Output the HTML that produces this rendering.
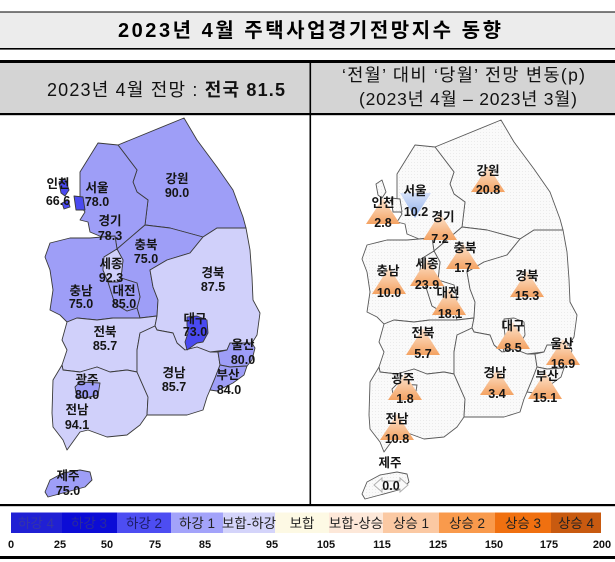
<!DOCTYPE html>
<html>
<head>
<meta charset="utf-8">
<style>
html,body{margin:0;padding:0;background:#fff;}
svg{display:block;}
text{font-family:"Liberation Sans","Noto Sans CJK KR",sans-serif;}
.L polygon{stroke:#3a3a3a;stroke-width:0.9;stroke-linejoin:round;}
.R polygon{stroke:#5a5a5a;stroke-width:0.9;stroke-linejoin:round;fill:url(#dots);}
.m{fill:#9e9ef7;}
.l{fill:#d0d0fa;}
.d{fill:#4a4af0;}
.lb{font-size:12.5px;font-weight:bold;fill:#151515;text-anchor:middle;}
.lg{font-size:13.5px;fill:#222;text-anchor:middle;}
.tk{font-size:11px;font-weight:bold;fill:#111;text-anchor:middle;}
</style>
</head>
<body>
<svg width="615" height="562" viewBox="0 0 615 562" xmlns="http://www.w3.org/2000/svg">
<defs>
<pattern id="dots" width="3" height="3" patternUnits="userSpaceOnUse">
<rect width="3" height="3" fill="#fafafa"/>
<rect x="1" y="1" width="1" height="1" fill="#ebebeb"/>
</pattern>
<linearGradient id="og" x1="0" y1="0" x2="0" y2="1">
<stop offset="0" stop-color="#fde6d2"/>
<stop offset="1" stop-color="#f4a262"/>
</linearGradient>
<linearGradient id="bg" x1="0" y1="0" x2="0" y2="1">
<stop offset="0" stop-color="#d6e2fa"/>
<stop offset="1" stop-color="#8eaee8"/>
</linearGradient>
</defs>

<!-- Title -->
<rect x="0" y="12" width="615" height="37" fill="#ececec"/>
<rect x="0" y="11.5" width="615" height="1" fill="#000"/>
<rect x="0" y="48" width="615" height="1.6" fill="#000"/>
<text x="118" y="37" font-size="20" font-weight="bold" fill="#000" textLength="383" lengthAdjust="spacing">2023년 4월 주택사업경기전망지수 동향</text>

<!-- Header row -->
<rect x="0" y="63" width="615" height="50" fill="#d4d4d4"/>
<rect x="0" y="60" width="615" height="3" fill="#000"/>
<rect x="0" y="113" width="615" height="2.2" fill="#000"/>
<text x="47" y="96" font-size="18" fill="#111" textLength="238" lengthAdjust="spacing">2023년 4월 전망 : <tspan font-weight="bold">전국 81.5</tspan></text>
<text x="342" y="81" font-size="17.5" fill="#111" textLength="243" lengthAdjust="spacing">‘전월’ 대비 ‘당월’ 전망 변동(p)</text>
<text x="359" y="105" font-size="17.5" fill="#111" textLength="218" lengthAdjust="spacing">(2023년 4월 – 2023년 3월)</text>

<!-- divider + bottom lines -->
<rect x="309.5" y="63" width="1.6" height="442" fill="#000"/>
<rect x="0" y="504" width="615" height="2.2" fill="#000"/>
<rect x="0" y="556" width="615" height="3" fill="#000"/>

<!-- LEFT MAP -->
<g class="L">
<polygon class="m" points="118,145 184,118 197,140 217,167 233,190 243,217 246,228 217,228 203,237 170,228 145,225 148,200 137,192 133,182 137,170"/>
<polygon class="m" points="80,172 98,143 118,145 137,170 133,182 137,192 148,200 145,225 117,249 115,236 102,237 90,232 88,222 80,220 85,212 80,205 80,190"/>
<polygon class="d" points="74,196 83,197 85,210 76,210"/>
<polygon class="d" points="59,182 65,178 69,190 65,196 61,193"/>
<polygon class="d" points="62,203 68,200 70,207 64,209"/>
<polygon class="m" points="145,225 170,228 203,237 190,253 167,260 150,270 153,287 158,300 157,316 140,318 137,308 140,297 137,283 121,278 123,260 117,249"/>
<polygon class="m" points="50,243 70,238 90,238 102,237 115,236 117,249 104,257 103,270 108,282 115,304 127,311 137,308 140,318 113,318 97,320 77,318 67,322 60,315 50,310 53,290 50,270 45,257"/>
<polygon class="l" points="104,257 117,249 123,260 121,278 118,282 108,282 103,270"/>
<polygon class="m" points="108,282 118,282 121,278 137,283 140,297 137,308 127,311 115,304"/>
<polygon class="l" points="67,322 77,318 97,320 113,318 140,318 157,316 155,326 140,333 137,350 137,372 127,370 110,372 97,367 80,372 63,370 62,365 67,350 62,340"/>
<polygon class="l" points="62,365 63,370 80,372 97,367 110,372 127,370 137,372 148,397 147,415 140,425 127,435 107,437 88,430 80,432 67,450 63,440 53,427 52,413 53,380"/>
<polygon class="m" points="75,387 80,382 100,383 98,395 85,398 77,397"/>
<polygon class="l" points="246,228 250,250 252,277 253,300 260,313 257,335 252,343 230,343 227,350 210,352 197,347 185,350 177,343 173,333 157,330 155,326 157,316 158,300 153,287 150,270 167,260 190,253 203,237 217,228"/>
<polygon class="l" points="155,326 157,330 173,333 177,343 185,350 197,347 210,352 218,352 220,365 215,378 210,390 207,397 203,410 187,415 167,415 147,415 148,397 137,372 137,350 140,333"/>
<polygon class="d" points="187,317 197,316 207,320 208,333 203,342 197,343 187,350 185,342 188,333 187,325"/>
<polygon class="m" points="218,352 227,350 230,343 252,343 255,348 252,360 247,366 230,367 220,365"/>
<polygon class="m" points="220,365 230,367 247,366 244,375 233,383 217,391 210,390 215,378"/>
<polygon class="m" points="45,492 50,480 63,473 80,470 90,472 92,480 85,487 63,493 48,497"/>
</g>
<g>
<text class="lb" x="58" y="188">인천</text><text class="lb" x="58" y="205">66.6</text>
<text class="lb" x="97" y="192">서울</text><text class="lb" x="97" y="206">78.0</text>
<text class="lb" x="110" y="225">경기</text><text class="lb" x="110" y="240">78.3</text>
<text class="lb" x="177" y="183">강원</text><text class="lb" x="177" y="197">90.0</text>
<text class="lb" x="146" y="249">충북</text><text class="lb" x="146" y="263">75.0</text>
<text class="lb" x="213" y="277">경북</text><text class="lb" x="213" y="291">87.5</text>
<text class="lb" x="111" y="268">세종</text><text class="lb" x="111" y="282">92.3</text>
<text class="lb" x="81" y="295">충남</text><text class="lb" x="81" y="308">75.0</text>
<text class="lb" x="124" y="295">대전</text><text class="lb" x="124" y="308">85.0</text>
<text class="lb" x="195" y="323">대구</text><text class="lb" x="195" y="336">73.0</text>
<text class="lb" x="105" y="336">전북</text><text class="lb" x="105" y="350">85.7</text>
<text class="lb" x="243" y="349">울산</text><text class="lb" x="243" y="364">80.0</text>
<text class="lb" x="87" y="384">광주</text><text class="lb" x="87" y="399">80.0</text>
<text class="lb" x="174" y="377">경남</text><text class="lb" x="174" y="391">85.7</text>
<text class="lb" x="228" y="379">부산</text><text class="lb" x="229" y="394">84.0</text>
<text class="lb" x="77" y="414">전남</text><text class="lb" x="77" y="429">94.1</text>
<text class="lb" x="68" y="480">제주</text><text class="lb" x="68" y="495">75.0</text>
</g>

<!-- RIGHT MAP -->
<g class="R" transform="translate(317,2)">
<polygon points="118,145 184,118 197,140 217,167 233,190 243,217 246,228 217,228 203,237 170,228 145,225 148,200 137,192 133,182 137,170"/>
<polygon points="80,172 98,143 118,145 137,170 133,182 137,192 148,200 145,225 117,249 115,236 102,237 90,232 88,222 80,220 85,212 80,205 80,190"/>
<polygon points="74,196 83,197 85,210 76,210"/>
<polygon points="59,182 65,178 69,190 65,196 61,193"/>
<polygon points="62,203 68,200 70,207 64,209"/>
<polygon points="145,225 170,228 203,237 190,253 167,260 150,270 153,287 158,300 157,316 140,318 137,308 140,297 137,283 121,278 123,260 117,249"/>
<polygon points="50,243 70,238 90,238 102,237 115,236 117,249 104,257 103,270 108,282 115,304 127,311 137,308 140,318 113,318 97,320 77,318 67,322 60,315 50,310 53,290 50,270 45,257"/>
<polygon points="104,257 117,249 123,260 121,278 118,282 108,282 103,270"/>
<polygon points="108,282 118,282 121,278 137,283 140,297 137,308 127,311 115,304"/>
<polygon points="67,322 77,318 97,320 113,318 140,318 157,316 155,326 140,333 137,350 137,372 127,370 110,372 97,367 80,372 63,370 62,365 67,350 62,340"/>
<polygon points="62,365 63,370 80,372 97,367 110,372 127,370 137,372 148,397 147,415 140,425 127,435 107,437 88,430 80,432 67,450 63,440 53,427 52,413 53,380"/>
<polygon points="75,387 80,382 100,383 98,395 85,398 77,397"/>
<polygon points="246,228 250,250 252,277 253,300 260,313 257,335 252,343 230,343 227,350 210,352 197,347 185,350 177,343 173,333 157,330 155,326 157,316 158,300 153,287 150,270 167,260 190,253 203,237 217,228"/>
<polygon points="155,326 157,330 173,333 177,343 185,350 197,347 210,352 218,352 220,365 215,378 210,390 207,397 203,410 187,415 167,415 147,415 148,397 137,372 137,350 140,333"/>
<polygon points="187,317 197,316 207,320 208,333 203,342 197,343 187,350 185,342 188,333 187,325"/>
<polygon points="218,352 227,350 230,343 252,343 255,348 252,360 247,366 230,367 220,365"/>
<polygon points="220,365 230,367 247,366 244,375 233,383 217,391 210,390 215,378"/>
<polygon points="45,492 50,480 63,473 80,470 90,472 92,480 85,487 63,493 48,497"/>
</g>

<!-- triangles -->
<g fill="url(#og)">
<polygon points="488,166 471,192 505,192"/>
<polygon points="383,198 366,224 400,224"/>
<polygon points="440,213 423,240 457,240"/>
<polygon points="463,243 446,269 480,269"/>
<polygon points="427,259 410,286 444,286"/>
<polygon points="389,267 372,294 406,294"/>
<polygon points="527,271 510,297 544,297"/>
<polygon points="449,288 432,315 466,315"/>
<polygon points="423,328 406,355 440,355"/>
<polygon points="513,322 496,349 530,349"/>
<polygon points="563,339 546,365 580,365"/>
<polygon points="497,369 480,395 514,395"/>
<polygon points="545,372 528,399 562,399"/>
<polygon points="405,374 388,400 422,400"/>
<polygon points="397,414 380,440 414,440"/>
</g>
<polygon points="400,193 431,193 415,218" fill="url(#bg)"/>
<polygon points="374,485 382,478 382,481 400,481 400,478 408,485 400,492 400,489 382,489 382,492" fill="#fafafa" stroke="#b0b0b0" stroke-width="1"/>

<g>
<text class="lb" x="488" y="175">강원</text><text class="lb" x="488" y="194">20.8</text>
<text class="lb" x="415" y="195">서울</text><text class="lb" x="416" y="216">10.2</text>
<text class="lb" x="383" y="207">인천</text><text class="lb" x="383" y="227">2.8</text>
<text class="lb" x="443" y="221">경기</text><text class="lb" x="440" y="243">7.2</text>
<text class="lb" x="465" y="252">충북</text><text class="lb" x="463" y="272">1.7</text>
<text class="lb" x="427" y="268">세종</text><text class="lb" x="427" y="289">23.9</text>
<text class="lb" x="388" y="275">충남</text><text class="lb" x="389" y="297">10.0</text>
<text class="lb" x="527" y="280">경북</text><text class="lb" x="527" y="300">15.3</text>
<text class="lb" x="448" y="297">대전</text><text class="lb" x="450" y="318">18.1</text>
<text class="lb" x="423" y="337">전북</text><text class="lb" x="423" y="358">5.7</text>
<text class="lb" x="513" y="330">대구</text><text class="lb" x="513" y="352">8.5</text>
<text class="lb" x="562" y="348">울산</text><text class="lb" x="563" y="368">16.9</text>
<text class="lb" x="495" y="377">경남</text><text class="lb" x="497" y="398">3.4</text>
<text class="lb" x="547" y="380">부산</text><text class="lb" x="545" y="402">15.1</text>
<text class="lb" x="403" y="383">광주</text><text class="lb" x="405" y="403">1.8</text>
<text class="lb" x="397" y="423">전남</text><text class="lb" x="397" y="443">10.8</text>
<text class="lb" x="390" y="467">제주</text><text class="lb" x="391" y="490">0.0</text>
</g>

<!-- LEGEND -->
<rect x="11" y="512.5" width="51" height="20.5" fill="#2020d4"/>
<rect x="62" y="512.5" width="55" height="20.5" fill="#0c0cd6"/>
<rect x="117" y="512.5" width="54" height="20.5" fill="#4d4df2"/>
<rect x="171" y="512.5" width="52" height="20.5" fill="#a3a3fa"/>
<rect x="223" y="512.5" width="52" height="20.5" fill="#d4d4fa"/>
<rect x="275" y="512.5" width="54" height="20.5" fill="#fdf9e4"/>
<rect x="329" y="512.5" width="54" height="20.5" fill="#fde8d9"/>
<rect x="383" y="512.5" width="56" height="20.5" fill="#fbc9a3"/>
<rect x="439" y="512.5" width="56" height="20.5" fill="#f99a4c"/>
<rect x="495" y="512.5" width="56" height="20.5" fill="#f07010"/>
<rect x="551" y="512.5" width="50" height="20.5" fill="#c85a10"/>
<text class="lg" x="36" y="528" style="fill:#3434a8">하강 4</text>
<text class="lg" x="89" y="528" style="fill:#2a2a9c">하강 3</text>
<text class="lg" x="144" y="528" style="fill:#1c1c66">하강 2</text>
<text class="lg" x="197" y="528">하강 1</text>
<text class="lg" x="249" y="528">보합-하강</text>
<text class="lg" x="302" y="528">보합</text>
<text class="lg" x="356" y="528">보합-상승</text>
<text class="lg" x="411" y="528">상승 1</text>
<text class="lg" x="467" y="528">상승 2</text>
<text class="lg" x="523" y="528">상승 3</text>
<text class="lg" x="576" y="528">상승 4</text>

<text class="tk" x="11" y="548">0</text>
<text class="tk" x="60" y="548">25</text>
<text class="tk" x="107" y="548">50</text>
<text class="tk" x="155" y="548">75</text>
<text class="tk" x="205" y="548">85</text>
<text class="tk" x="272" y="548">95</text>
<text class="tk" x="326" y="548">105</text>
<text class="tk" x="382" y="548">115</text>
<text class="tk" x="438" y="548">125</text>
<text class="tk" x="494" y="548">150</text>
<text class="tk" x="549" y="548">175</text>
<text class="tk" x="602" y="548">200</text>
</svg>
</body>
</html>
